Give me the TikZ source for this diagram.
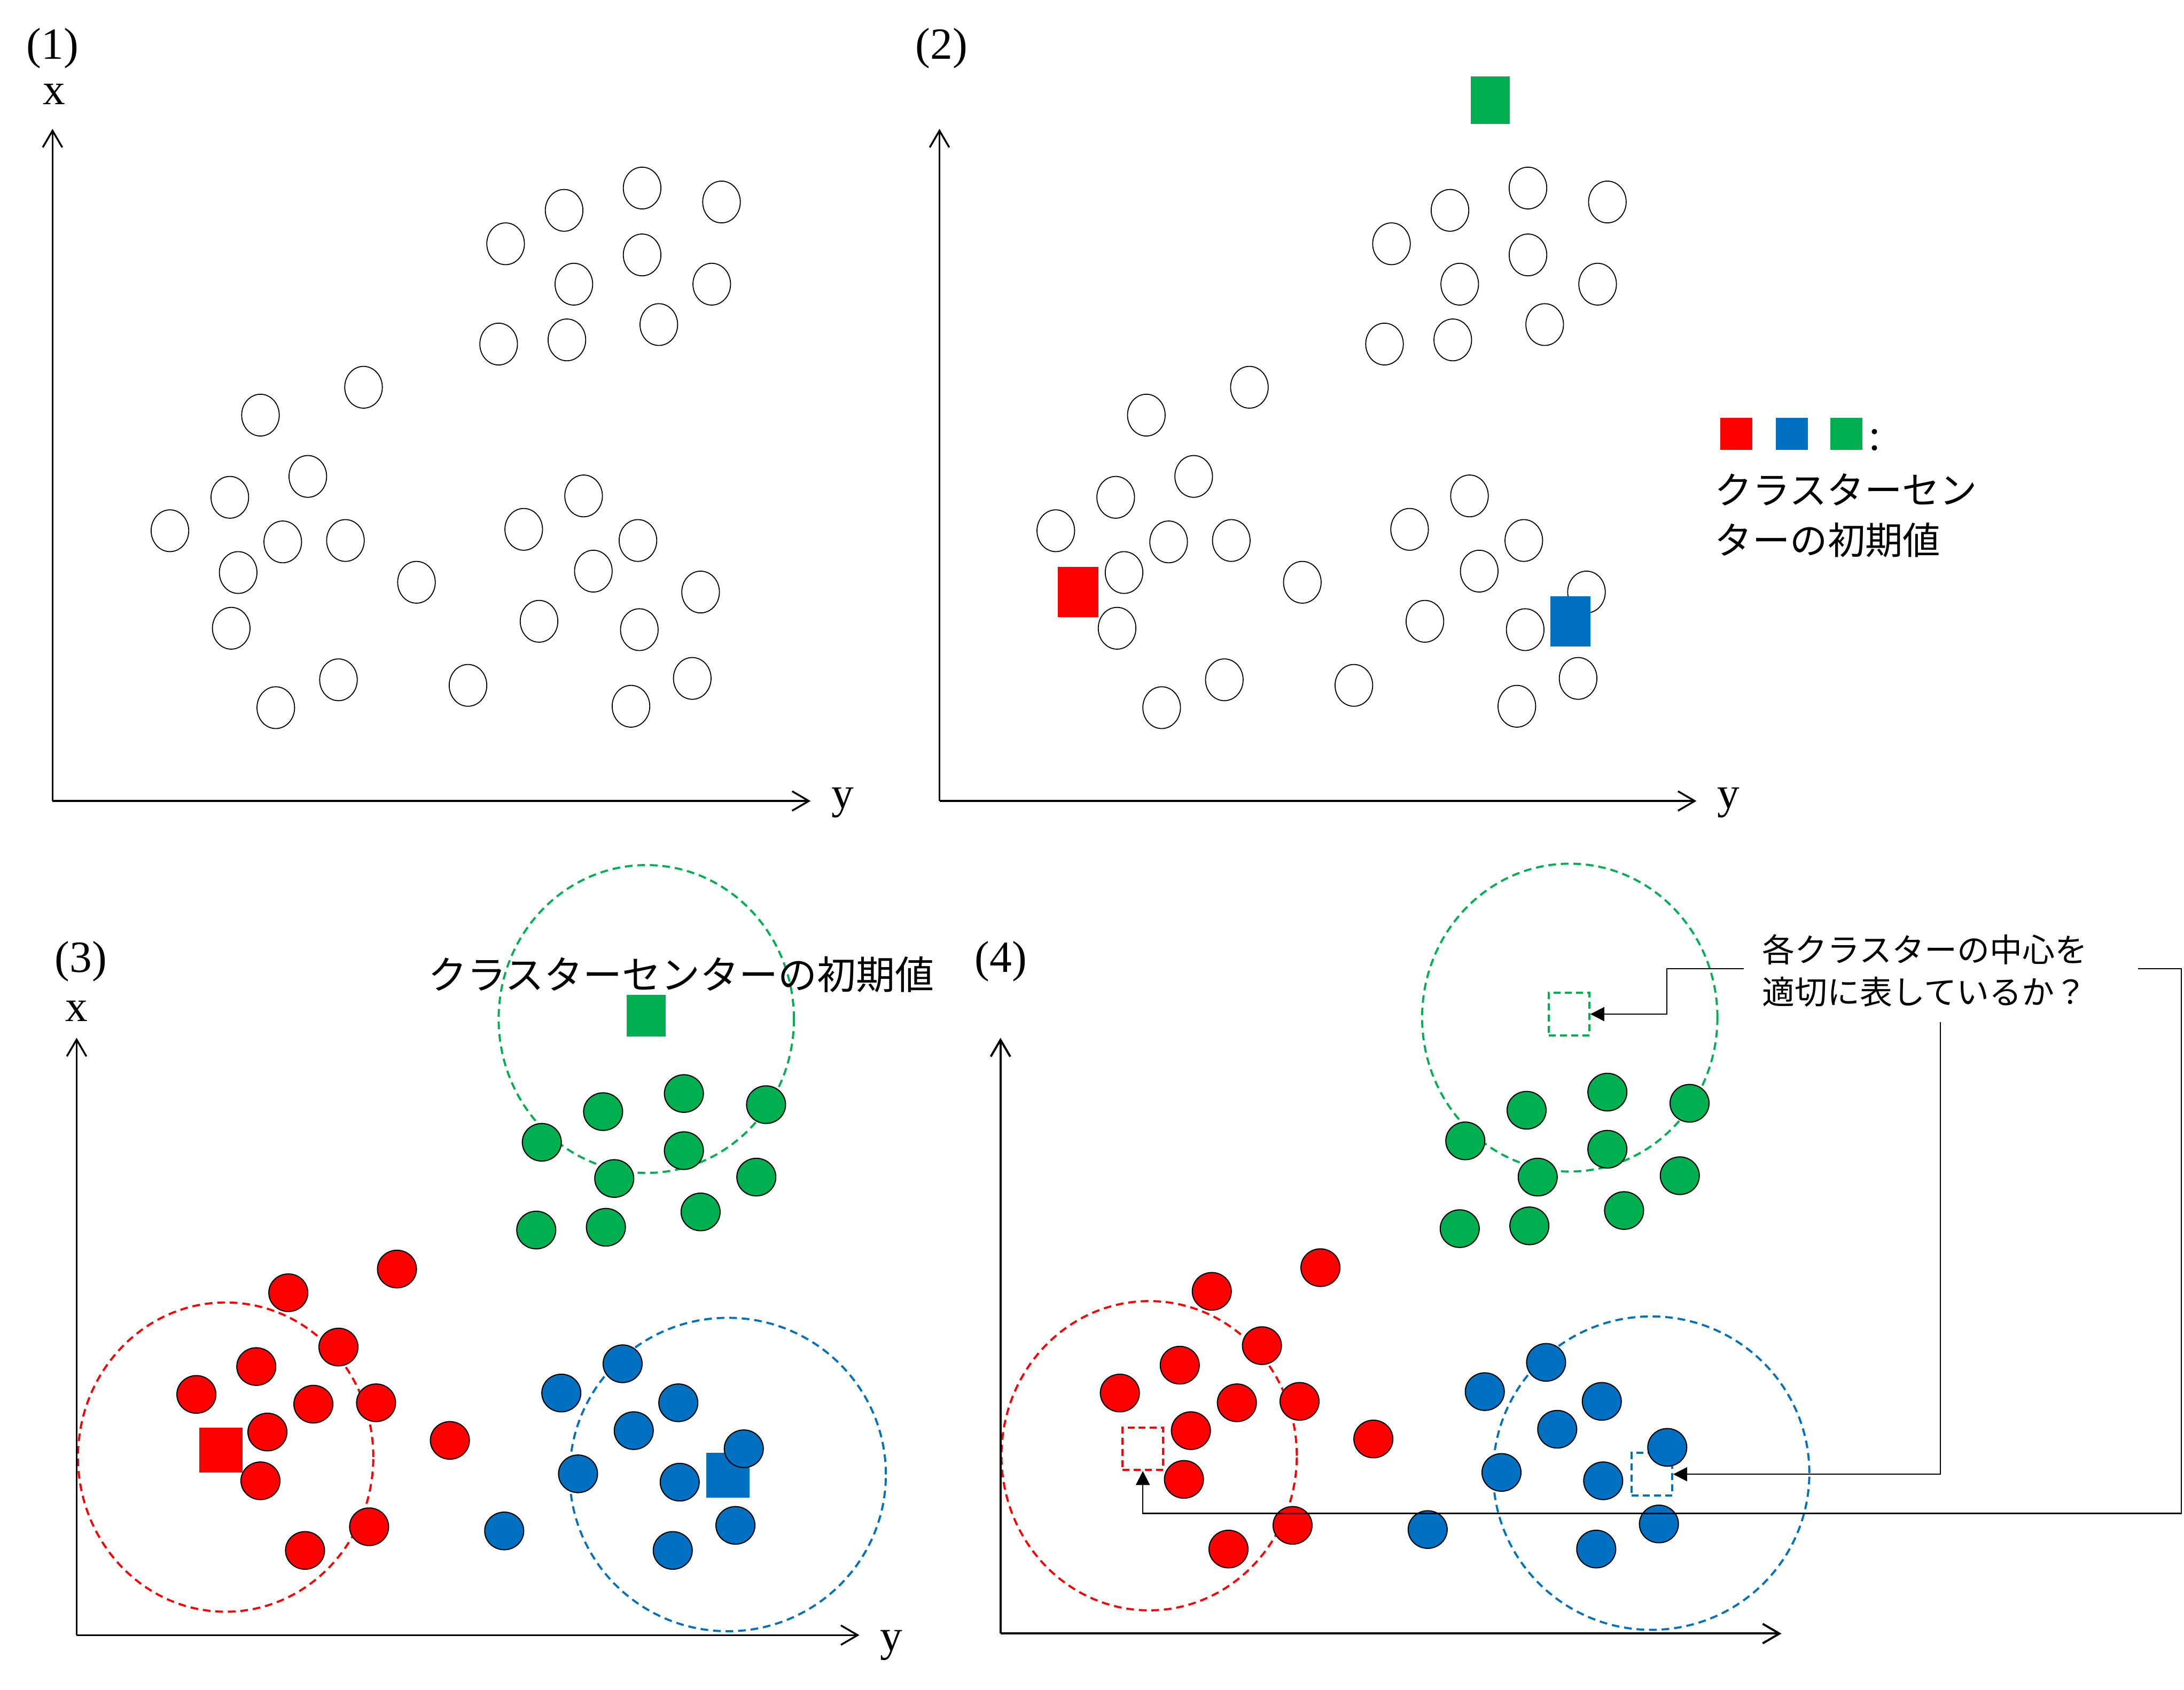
\documentclass[tikz,border=0pt]{standalone}
\usepackage{fontspec}
\setmainfont{Liberation Serif}
\newfontfamily\jpfont{Noto Sans CJK JP}
\usetikzlibrary{shapes.geometric,arrows.meta}
\definecolor{cred}{HTML}{FF0000}
\definecolor{cblue}{HTML}{0070C0}
\definecolor{cgreen}{HTML}{00B050}
\begin{document}
\begin{tikzpicture}[x=1pt,y=-1pt,
  axisline/.style={line width=1.3pt,-{Straight Barb[length=12pt,width=14pt]}},
  opendot/.style={ellipse,draw=black,line width=0.7pt,minimum width=27pt,minimum height=30pt,inner sep=0pt},
  fulldot/.style={ellipse,draw=black,line width=0.8pt,fill=#1,minimum width=28pt,minimum height=27pt,inner sep=0pt},
  centersq/.style={rectangle,fill=#1,draw=none,inner sep=0pt},
  dashsq/.style={rectangle,draw=#1,line width=1.5pt,dash pattern=on 5pt off 3pt,minimum width=29pt,minimum height=30.5pt,inner sep=0pt},
  zone/.style={ellipse,draw=#1,line width=1.5pt,dash pattern=on 5.5pt off 3.5pt,inner sep=0pt},
  lab/.style={font=\fontsize{32}{38}\selectfont,inner sep=0pt},
  jplab/.style={font=\jpfont\fontsize{#1}{#1}\selectfont,inner sep=0pt},
  callout/.style={line width=0.9pt,-{Triangle[length=10pt,width=10pt]}}]
\fill[white] (0,0) rectangle (1568,1213);
\useasboundingbox (0,0) rectangle (1568,1213);

% ---------- Panel (1) ----------
\coordinate (o1) at (37.7,575);
\coordinate (xt1) at (37.7,92.5);
\coordinate (yt1) at (582,575);
\draw[axisline] (o1) -- (xt1);
\draw[axisline] (o1) -- (yt1);
\node[lab,anchor=base] (n1) at (37.7,42.3) {(1)};
\node[lab,anchor=base] (x1) at (39,75) {x};
\node[lab,anchor=base] (y1) at (605,580) {y};
\foreach \px/\py [count=\i] in {461/135,518/145,405/151,363/175,461/183,412/204,511/204,358/247,407/244,473/233,
  261/278,187/298,221/342,165/357,122/381,203/389,248/388,171/411,166/451,299/418,243/488,198/508,336/492,
  376/380,419/356,458/388,426/410,387/446,459/452,503/425,497/487,453/507}
  \node[opendot] (pa\i) at (\px,\py) {};

% ---------- Panel (2) ----------
\coordinate (o2) at (674.5,575);
\coordinate (xt2) at (674.5,92.5);
\coordinate (yt2) at (1218,575);
\draw[axisline] (o2) -- (xt2);
\draw[axisline] (o2) -- (yt2);
\node[lab,anchor=base] (n2) at (676,42.3) {(2)};
\node[lab,anchor=base] (y2) at (1241,580) {y};
\foreach \px/\py [count=\i] in {461/135,518/145,405/151,363/175,461/183,412/204,511/204,358/247,407/244,473/233,
  261/278,187/298,221/342,165/357,122/381,203/389,248/388,171/411,166/451,299/418,243/488,198/508,336/492,
  376/380,419/356,458/388,426/410,387/446,459/452,503/425,497/487,453/507}
  \node[opendot] (pb\i) at (\px+636,\py) {};
\node[centersq=cgreen,minimum width=28pt,minimum height=34pt] (gsq2) at (1070,72) {};
\node[centersq=cred,minimum width=29.5pt,minimum height=36pt] (rsq2) at (774,425) {};
\node[centersq=cblue,minimum width=29pt,minimum height=36pt] (bsq2) at (1127.5,446) {};
% legend
\node[centersq=cred,minimum width=23pt,minimum height=23pt] (lgr) at (1246.5,311.3) {};
\node[centersq=cblue,minimum width=23pt,minimum height=23pt] (lgb) at (1286.5,311.3) {};
\node[centersq=cgreen,minimum width=23pt,minimum height=23pt] (lgg) at (1325.5,311.3) {};
\node[lab,anchor=base] (lgc) at (1346,323) {:};
\node[jplab=27,anchor=base west] (lgt1) at (1231,362) {クラスターセン};
\node[jplab=27,anchor=base west] (lgt2) at (1231,398) {ターの初期値};

% ---------- Panel (3) ----------
\node[zone=cgreen,minimum width=212pt,minimum height=221pt] (gz3) at (464,731.5) {};
\node[zone=cred,minimum width=212pt,minimum height=222pt] (rz3) at (162,1046) {};
\node[zone=cblue,minimum width=227pt,minimum height=225pt] (bz3) at (522.5,1058.5) {};
\coordinate (o3) at (55,1173.8);
\coordinate (xt3) at (55,745);
\coordinate (yt3) at (617,1173.8);
\draw[axisline] (o3) -- (xt3);
\draw[axisline] (o3) -- (yt3);
\node[lab,anchor=base] (n3) at (58,698) {(3)};
\node[lab,anchor=base] (x3) at (55,733) {x};
\node[lab,anchor=base] (y3) at (640,1185) {y};
\node[centersq=cgreen,minimum width=28pt,minimum height=30pt] (gsq3) at (464,729) {};
\node[centersq=cred,minimum width=31pt,minimum height=32pt] (rsq3) at (158.5,1041) {};
\node[centersq=cblue,minimum width=31pt,minimum height=32pt] (bsq3) at (522.5,1059) {};
\foreach \px/\py [count=\i] in {389/820,433/798,491/785,550/793,491/826,441/846,543/845,385/883,435/881,503/870}
  \node[fulldot=cgreen] (g3\i) at (\px,\py) {};
\foreach \px/\py [count=\i] in {285/911,207/928,243/967,184/981,141/1001,225/1008,270/1007,192/1028,187/1063,323/1034,265/1096,219/1113}
  \node[fulldot=cred] (r3\i) at (\px,\py) {};
\foreach \px/\py [count=\i] in {362/1099,403/1000,447/979,487/1007,455/1027,415/1058,534/1040,488/1064,483/1113,528/1095}
  \node[fulldot=cblue] (b3\i) at (\px,\py) {};
\node[jplab=28,anchor=base] (t3) at (489,710) {クラスターセンターの初期値};

% ---------- Panel (4) ----------
\node[zone=cgreen,minimum width=212pt,minimum height=221pt] (gz4) at (1127,730.5) {};
\node[zone=cred,minimum width=212pt,minimum height=222pt] (rz4) at (825,1045) {};
\node[zone=cblue,minimum width=227pt,minimum height=225pt] (bz4) at (1185.5,1057.5) {};
\coordinate (o4) at (718.3,1172.7);
\coordinate (xt4) at (718.3,745);
\coordinate (yt4) at (1279,1172.7);
\draw[axisline,line width=1.5pt] (o4) -- (xt4);
\draw[axisline,line width=1.5pt] (o4) -- (yt4);
\node[lab,anchor=base] (n4) at (718.5,698) {(4)};
\node[dashsq=cgreen] (gsq4) at (1126.5,728) {};
\node[dashsq=cred] (rsq4) at (820.5,1040) {};
\node[dashsq=cblue] (bsq4) at (1186,1058.3) {};
\foreach \px/\py [count=\i] in {389/820,433/798,491/785,550/793,491/826,441/846,543/845,385/883,435/881,503/870}
  \node[fulldot=cgreen] (g4\i) at (\px+663,\py-1) {};
\foreach \px/\py [count=\i] in {285/911,207/928,243/967,184/981,141/1001,225/1008,270/1007,192/1028,187/1063,323/1034,265/1096,219/1113}
  \node[fulldot=cred] (r4\i) at (\px+663,\py-1) {};
\foreach \px/\py [count=\i] in {362/1099,403/1000,447/979,487/1007,455/1027,415/1058,534/1040,488/1064,483/1113,528/1095}
  \node[fulldot=cblue] (b4\i) at (\px+663,\py-1) {};

% question text and callouts
\node[jplab=23.4,anchor=base west] (q1) at (1265,690.5) {各クラスターの中心を};
\node[jplab=23.4,anchor=base west] (q2) at (1265,721) {適切に表しているか？};
\coordinate (cg) at (1252,695.3);
\coordinate (cgk) at (1196.7,728);
\coordinate (cb) at (1393,733.6);
\coordinate (cr) at (1535,695.3);
\coordinate (crk) at (1566,1086.4);
\draw[callout] (cg) -| (cgk) -- (gsq4.east);
\draw[callout] (cb) |- (bsq4.east);
\draw[callout] (cr) -| (crk) -| (rsq4.south);
\end{tikzpicture}
\end{document}
